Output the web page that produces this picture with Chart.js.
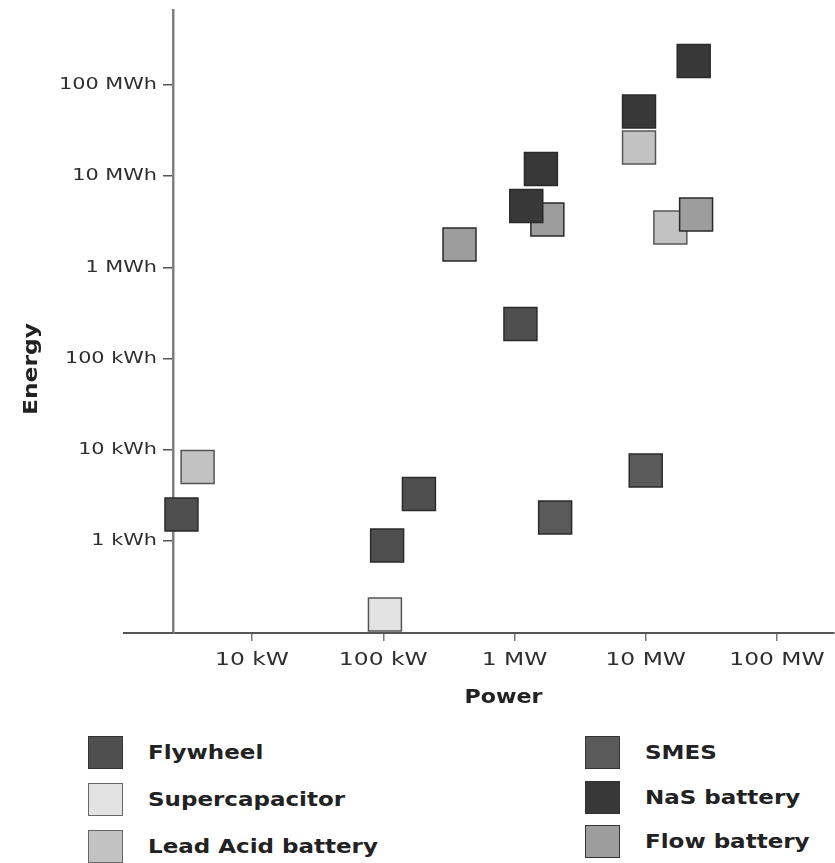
<!DOCTYPE html>
<html><head><meta charset="utf-8">
<script src="https://cdn.jsdelivr.net/npm/chart.js@4.4.1/dist/chart.umd.min.js"></script>
<style>
html,body{margin:0;padding:0;background:#fff;width:835px;height:863px;overflow:hidden;}
#wrap{position:relative;width:835px;height:863px;}
#c{position:absolute;left:0;top:0;}
.lg{position:absolute;height:33px;display:flex;align-items:center;}
.box{width:35px;height:33px;box-sizing:border-box;border:1.5px solid #333;flex:none;}
.txt{font:bold 20px "DejaVu Sans";color:#222;transform:scaleX(1.15);transform-origin:left center;white-space:nowrap;margin-left:25px;}
</style></head>
<body><div id="wrap"><canvas id="c" width="835" height="720"></canvas><div id="legend"></div></div>
<script>
// ---- data (power in W, energy in Wh) ----
const seriesNames  = ['Flywheel','Supercapacitor','Lead Acid battery','SMES','NaS battery','Flow battery'];
const seriesColors = ['#4f4f4f','#e3e3e3','#c2c2c2','#5a5a5a','#383838','#9d9d9d'];
const flywheelPower  = [2900, 107000, 187000, 1110000];
const flywheelEnergy = [1950, 893, 3280, 239000];
const supercapPower  = [103000];
const supercapEnergy = [156];
const leadAcidPower  = [3850, 8890000, 15400000];
const leadAcidEnergy = [6480, 20600000, 2740000];
const smesPower      = [2040000, 10000000];
const smesEnergy     = [1810, 5930];
const nasPower       = [23200000, 8890000, 1590000, 1230000];
const nasEnergy      = [183000000, 51200000, 12000000, 4710000];
const flowPower      = [381000, 1780000, 24200000];
const flowEnergy     = [1780000, 3350000, 3800000];
const xTickValues = [1e4, 1e5, 1e6, 1e7, 1e8];
const xTickLabels = ['10 kW','100 kW','1 MW','10 MW','100 MW'];
const yTickValues = [1e3, 1e4, 1e5, 1e6, 1e7, 1e8];
const yTickLabels = ['1 kWh','10 kWh','100 kWh','1 MWh','10 MWh','100 MWh'];
const xTitle = 'Power';
const yTitle = 'Energy';
const xMin = 2500, xMax = 2.72e8, yMin = 98, yMax = 6.64e8;

const seriesPower  = [flywheelPower, supercapPower, leadAcidPower, smesPower, nasPower, flowPower];
const seriesEnergy = [flywheelEnergy, supercapEnergy, leadAcidEnergy, smesEnergy, nasEnergy, flowEnergy];
const drawOrder = [3, 3, 3, 3, 0, 1];

const datasets = seriesNames.map((name, i) => ({
  label: name,
  data: seriesPower[i].map((p, j) => ({x: p, y: seriesEnergy[i][j]})),
  backgroundColor: seriesColors[i],
  borderColor: i === 1 || i === 2 ? '#555' : '#2a2a2a',
  borderWidth: 1.5,
  pointStyle: 'rect',
  pointRadius: 23.3,
  pointHoverRadius: 23.3,
  clip: false,
  order: drawOrder[i]
}));

const stretchText = {
  id: 'stretchText',
  beforeInit(chart) {
    const ctx = chart.ctx;
    const raw = ctx.fillText;
    ctx.fillText = function (t, x, y) {
      const k = /bold|700/.test(this.font) ? 1.17 : 1.3;
      this.save(); this.translate(x, y); this.scale(k, 1);
      raw.call(this, t, 0, 0);
      this.restore();
    };
  }
};

const decor = {
  id: 'decor',
  afterDraw(chart) {
    const ctx = chart.ctx, a = chart.chartArea;
    ctx.save();
    ctx.strokeStyle = '#555'; ctx.lineWidth = 2;
    ctx.beginPath(); ctx.moveTo(123, a.bottom); ctx.lineTo(a.left, a.bottom); ctx.stroke();
    ctx.translate(32, 369); ctx.rotate(-Math.PI / 2);
    ctx.font = 'bold 20px "DejaVu Sans"'; ctx.fillStyle = '#222';
    ctx.textAlign = 'center'; ctx.textBaseline = 'middle';
    ctx.fillText(yTitle, 0, 0);
    ctx.restore();
  }
};

new Chart(document.getElementById('c'), {
  type: 'scatter',
  data: { datasets },
  options: {
    responsive: false,
    animation: false,
    events: [],
    layout: { autoPadding: false, padding: { top: 10, right: 1, left: 0, bottom: 0 } },
    plugins: { legend: { display: false }, tooltip: { enabled: false } },
    scales: {
      x: {
        type: 'logarithmic', position: 'bottom', min: xMin, max: xMax,
        afterFit(s) { s.height = 87; s.paddingLeft = 0; s.paddingRight = 0; },
        afterBuildTicks(s) { s.ticks = xTickValues.map(v => ({ value: v })); },
        ticks: { callback: (v, i) => xTickLabels[i], font: { family: 'DejaVu Sans', size: 18 }, color: '#2e2e2e', padding: 9, maxRotation: 0, autoSkip: false },
        grid: { drawOnChartArea: false, drawTicks: true, tickLength: 8, color: '#777', lineWidth: 1.5 },
        border: { display: true, color: '#555', width: 2 },
        title: { display: true, text: xTitle, font: { family: 'DejaVu Sans', size: 19, weight: 'bold' }, color: '#222', padding: { top: 12, bottom: 11 } }
      },
      y: {
        type: 'logarithmic', position: 'left', min: yMin, max: yMax,
        afterFit(s) { s.width = 173; s.paddingTop = 0; s.paddingBottom = 0; },
        afterBuildTicks(s) { s.ticks = yTickValues.map(v => ({ value: v })); },
        ticks: { callback: (v, i) => yTickLabels[i], font: { family: 'DejaVu Sans', size: 16 }, color: '#2e2e2e', padding: 6, autoSkip: false },
        grid: { drawOnChartArea: false, drawTicks: true, tickLength: 10, color: '#555', lineWidth: 1.5 },
        border: { display: true, color: '#808080', width: 2.5 }
      }
    }
  },
  plugins: [stretchText, decor]
});

// ---- legend (HTML) ----
const legendColumns = [[0, 1, 2], [3, 4, 5]];
const legendLeft = [88, 585];
const legendRowCenters = [[752, 799, 846], [752, 797, 841]];
const legendEl = document.getElementById('legend');
legendColumns.forEach((col, c) => col.forEach((si, r) => {
  const item = document.createElement('div');
  item.className = 'lg';
  item.style.left = legendLeft[c] + 'px';
  item.style.top = (legendRowCenters[c][r] - 16.5) + 'px';
  const box = document.createElement('div');
  box.className = 'box';
  box.style.background = seriesColors[si];
  box.style.borderColor = si === 1 || si === 2 ? '#666' : '#333';
  const txt = document.createElement('span');
  txt.className = 'txt';
  txt.textContent = seriesNames[si];
  item.appendChild(box); item.appendChild(txt);
  legendEl.appendChild(item);
}));
</script>
</body></html>
